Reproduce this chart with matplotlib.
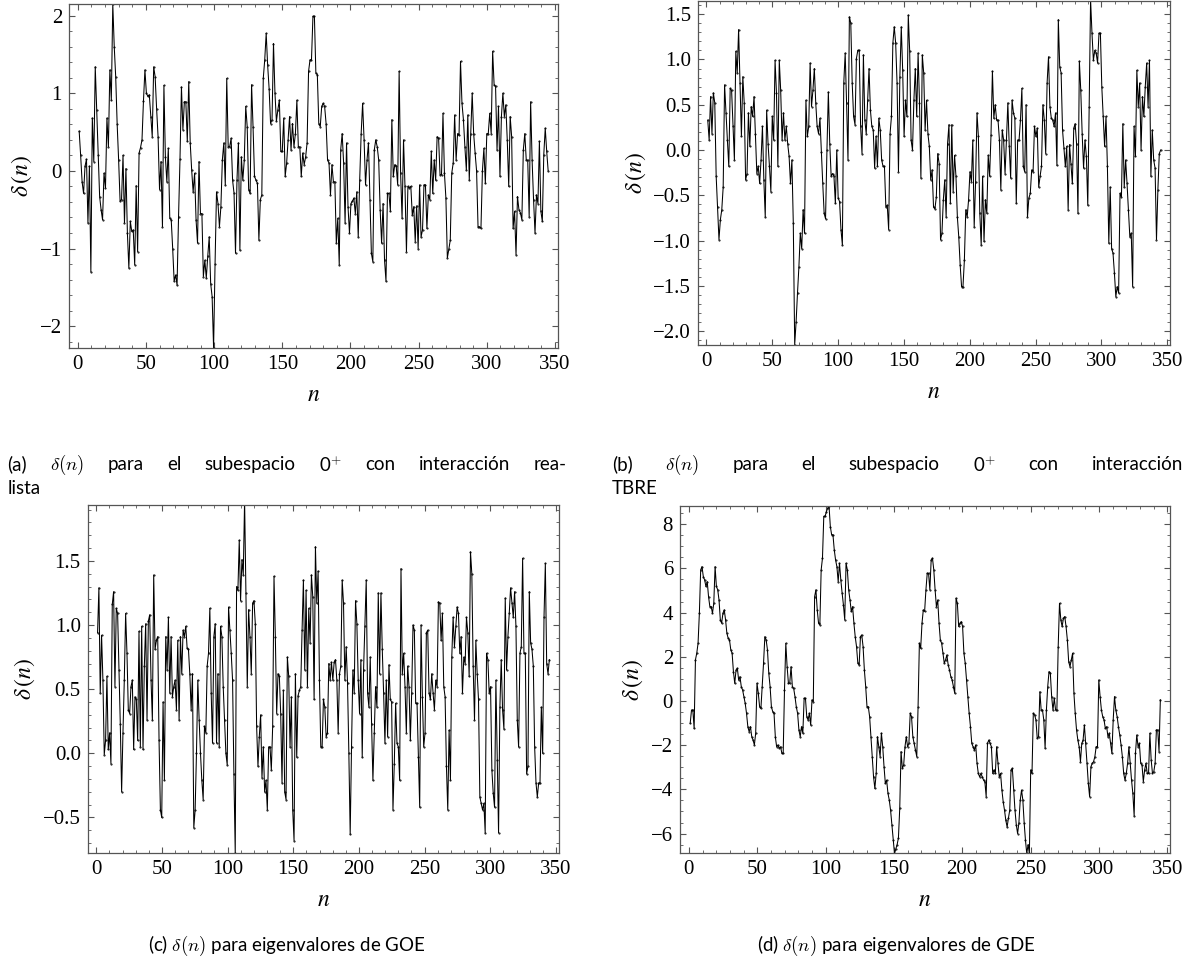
import numpy as np
import matplotlib
matplotlib.use("Agg")
import matplotlib.pyplot as plt
from matplotlib.ticker import MultipleLocator

# delta(n) values, n = 1 .. 345
delta_a = [
    0.51, 0.2, -0.14, -0.29, 0.06, 0.15, -0.67, 0.06, -1.30, 0.68, 0.12, 1.34, 0.79, 0.2, -0.33, -0.5,
    -0.63, -0.03, -0.22, 0.68, 0.31, 1.30, 0.91, 2.15, 1.60, 1.21, 0.6, 0.14, -0.39, -0.37, 0.20, -0.67,
    0.03, -0.80, -1.25, -0.65, -0.78, -0.76, -1.21, -0.19, -1.04, 0.23, 0.30, 0.40, 0.9, 1.30, 1.00, 0.96,
    0.98, 0.7, 0.44, 1.34, 1.21, 0.8, 0.44, -0.24, 0.12, -0.72, 1.10, 0.18, -0.14, 0.29, -0.61, -0.63,
    -1.0, -1.42, -1.34, -1.47, -0.6, 0.15, 1.08, 0.53, 0.89, 0.89, 0.38, 1.15, 0.36, 0.01, -0.27, -0.03,
    -0.63, -0.93, 0.12, -0.55, -0.55, -1.36, -1.15, -1.38, -1.10, -0.85, -1.45, -1.62, -2.28, -1.2, -0.27,
    -0.42, -0.72, -0.46, 0.14, 0.36, -0.18, 1.19, 0.31, 0.31, 0.42, -0.12, -0.29, -1.06, -0.12, 0.36,
    -1.02, 0.18, -0.12, 0.14, 0.83, 0.57, -0.24, -0.29, 1.11, 0.57, -0.07, -0.12, -0.16, -0.89, -0.37,
    -0.31, 1.19, 1.43, 1.77, 1.36, 1.06, 0.61, 0.66, 1.64, 1.00, 0.64, 0.79, 0.91, 0.25, 0.25, 0.68,
    -0.07, 0.10, 0.40, 0.70, 0.27, 0.61, 0.31, 0.48, 0.91, 0.31, 0.31, -0.07, 0.23, 0.08, 0.18, 0.36,
    1.28, 1.43, 1.43, 1.99, 1.99, 1.26, 1.24, 0.61, 0.57, 0.83, 0.87, 0.83, 0.61, 0.14, 0.10, -0.31,
    0.08, -0.14, -0.14, -0.93, -0.61, -1.21, 0.27, 0.48, 0.10, -0.67, 0.36, -0.46, -0.80, -0.42, -0.39,
    -0.35, -0.55, -0.27, -0.85, -0.12, 0.48, 0.87, 0.40, -0.18, 0.14, 0.36, -0.37, -1.06, -1.17, 0.27,
    0.40, 0.31, 0.14, -0.50, -0.93, -0.42, -1.15, -1.42,
    -0.29, -0.29, -0.52, 0.66, -0.07, 0.08, 0.06, -0.18, 1.28, -0.03, -0.61, 0.40, -0.20, -1.04, -0.20,
    -0.22, -0.20, -0.57, -0.46, -0.91, -0.45, -1.00, -0.18, -0.85, -0.76, -0.18, -0.18, -0.74, -0.31,
    -0.37, 0.25, -0.29, 0.14, -0.12, 0.44, 0.42, -0.05, -0.05, 0.74, -0.03, -0.35, -1.12, -1.01, -0.89,
    -0.03, 0.10, 0.72, 0.14, 0.48, 0.46, 1.41, 0.87, 0.66, 0.31, 0.01, 0.72, -0.12, 0.48, 1.00, 0.48,
    0.23, 0.00, -0.72, -0.72, -0.74, 0.00, 0.29, -0.16, 0.48, 0.48, 0.74, 0.48, 1.54, 1.11, 1.09, 0.27,
    0.83, -0.07, 0.70, 1.00, 0.70, 0.85, 0.40, -0.20, 0.70, 0.44, -0.74, -0.52, -1.08, -0.33, -0.50,
    -0.54, -0.63, 0.27, 0.48, 0.14, 0.14, -0.59, 0.89, 0.14, -0.37, -0.80, -0.31, -0.42, 0.38, -0.52,
    -0.65, 0.21, 0.55, 0.25, 0.00,
]

delta_b = [
    0.33, 0.11, 0.59, 0.18, 0.63, 0.52, -0.29, -0.63, -0.99, -0.77, -0.66, -0.41, 0.72, 0.41, 0.11, -0.18,
    0.68, 0.66, 0.26, -0.11, 1.09, 0.85, 1.33, 0.74, 0.15, 0.81, 0.52, -0.33, -0.26, 0.41, 0.04, 0.48,
    0.37, 0.59, 0.18, -0.26, -0.18, -0.37, -0.11, 0.26, -0.33, -0.74, 0.44, 0.07, -0.18, -0.46, 0.37,
    0.11, 0.99, 0.63, -0.18, 0.99, 0.66, 0.11, 0.41, 0.11, 0.26,
    0.07, -0.07, -0.37, -0.11, -0.81, -2.15, -1.90, -1.58, -1.29, -0.92, -1.09, -0.66, -0.92, 0.55, 0.15,
    0.26, 0.96, 0.48, 0.66, 0.90, 0.52, 0.26, 0.18, 0.35, -0.02, -0.37, -0.70, -0.76, 0.00, 0.64, 0.07,
    -0.29, -0.26, -0.29, -0.59, 0.00, -0.53, -0.57, -0.88, -1.05, 0.74, 1.07, 0.52, -0.11, 1.47, 1.40,
    0.74, 0.37, 0.28, 1.01, 1.10, 1.10, 0.26, -0.04, 1.05, 0.33, 0.18, 0.55, 0.90, 0.44, 0.26, 0.22,
    -0.20, 0.15, -0.18, 0.35, 0.22, -0.11, -0.18, -0.18, -0.63, -0.61, -0.88, 0.18, 0.37, 1.18, 1.36,
    1.18, 0.74, -0.24, 0.81, 1.36, 0.88, 0.15, 0.55, 0.37, 1.49, 1.09, 0.11, 0.00, 0.55, 0.90, 0.37,
    1.07, 0.52, -0.31, 1.05, 0.85, 0.22, 0.55, 0.18, 0.04, -0.33, -0.22, -0.63, -0.65, -0.52, -0.04,
    -0.15, -0.99, -0.92, -0.55, -0.33, -0.74, 0.07, 0.28, -0.59, 0.28, -0.46, -0.06, -0.29, -0.74, -0.96,
    -1.27, -1.51, -1.51, -1.22, -0.66, -0.74, -0.55, -0.24, -0.35, 0.11, -0.85, -0.35, 0.41, 0.15, -0.70,
    -1.05, -0.29, -1.01, -0.55, -0.70, -0.06, -0.29, 0.17, 0.87, 0.35, 0.50, 0.33, 0.33, 0.11, -0.44,
    0.22, 0.11, -0.26, 0.11, 0.52, 0.04, -0.31, 0.55, 0.41, 0.35, -0.59, 0.11, 0.11, 0.33, 0.68, -0.18,
    -0.24, 0.50, -0.74, -0.53, -0.48, -0.22, -0.24, 0.26, 0.15, 0.24, -0.41, -0.29, -0.18, 0.50, 0.33,
    -0.04, 0.74, 1.03, 0.48, 0.35, 0.33, 0.26, 0.41, -0.17, 1.44, 0.92, 0.85, 0.22, 0.02, -0.18, 0.04,
    -0.66, 0.06, -0.15, -0.37, 0.24, 0.29, 0.07, -0.70, 0.98, 0.66, 0.18, -0.20, 0.11, -0.07, -0.61,
    0.48, 1.66, 1.29, 0.99, 1.10, 1.07, 0.96, 1.29, 1.29, 0.70, 0.37, 0.04, 0.37, -0.18, -1.03, -0.41,
    -1.09, -1.14, -1.36, -1.62, -1.51, -1.58, -0.48, -0.52, 0.29, -0.41, -0.11, -0.37, -0.66, -0.96,
    -0.92, -1.51, 0.26, -0.07, 0.88, 0.48, 0.74, 0.00, 0.59, 0.37, 0.70, 0.96, 0.48, 0.99, -0.29, 0.22,
    -0.11, -0.20, -0.99, -0.44, -0.04, 0.00,
]

delta_c = [
    0.94, 1.29, 0.47, 0.92, 0.57, -0.01, 0.10, 0.60, 0.03, 0.16, -0.08, 1.16, 1.26, 0.52, 1.13, 1.09,
    0.65, 0.23, -0.30, 0.16, 0.57, 1.09, 0.78, 0.34, 0.31, 0.52, 0.57, 0.03, 0.44, 0.42, 0.10, 0.95,
    0.05, 0.99, 0.03, 0.68, 1.01, 0.26, 1.03, 1.08, 0.57, 0.26, 1.39, 0.81, 0.88, 0.91, 0.10, -0.44,
    -0.50, 0.40, -0.21, 0.91, 0.65, 1.06, 0.47, 0.91, 0.44, 0.52, 0.57, 0.34, 0.88, 0.26, 0.91, 0.62,
    0.96, 0.91, 0.99, 0.82, 0.81, 0.62, 0.34, 0.62, -0.58, -0.44, 0.00, 0.57, 0.26, 0.00, -0.21, -0.36,
    0.21, 0.16, 0.68, 0.78, 1.13, 0.47, 0.08, 0.91, 1.01, 0.08,
    0.62, 0.05, 0.99, 0.91, 0.52, 0.26, 0.00, -0.09, 1.14, 0.96, 0.78, 0.57, -0.16, -0.78, 1.30, 1.27,
    1.66, 1.19, 1.51, 1.39, 1.97, 1.25, 0.52, 1.12, 0.91, 0.62, 1.17, 1.19, 1.01, 0.21, -0.10, 0.13,
    0.30, -0.19, 0.05, -0.30, -0.21, -0.44, 0.05, 0.05, -0.13, 0.21, 1.38, 0.91, 0.31, 0.62, 0.60, 0.31,
    -0.23, 0.49, -0.30, -0.36, 0.75, 0.60, 0.05, 0.44, -0.44, -0.68, 0.62, -0.03, 0.45, 0.49, 0.52, 0.96,
    1.35, 0.65, 1.27, 0.52, 1.13, 0.86, 1.39, 1.22, 0.42, 1.61, 1.17, 1.42, 0.57, 0.05, 0.05, 0.42, 0.36,
    0.13, 0.16, 0.70, 0.57, 0.71, 0.57, 0.71, 0.73, 0.57, 0.16, 0.62, 0.68, 1.35, 1.17, 0.57, 0.83, 0.55,
    0.00, -0.63, 0.05, 0.65, 0.47, 1.19, 1.01, 0.57, 0.31, 0.73, -0.03, 0.65, 0.99, 1.35, 0.47, 0.36,
    0.75, 0.23, -0.21, 0.16, 0.52, 0.36, 1.25,
    0.62, 1.25, 0.81, 0.47, 0.08, 0.57, 0.13, 0.69, 0.42, 0.40, -0.44, -0.08, 0.39, 0.08, 0.05, -0.21,
    1.44, 0.62, 0.78, 0.52, 0.16, 0.68, 0.52, 0.10, 0.47, 1.00, 0.96, 0.39, 0.39, -0.03, -0.42, 1.00,
    0.44, 0.05, 0.16, 0.94, 0.96, 0.47, 0.42, 0.62, 0.47, 0.34, 0.57, 0.52, 1.18, 1.17, 0.88, 1.09, 0.52,
    0.44, -0.10, -0.44, 0.18, -0.21, 0.75, 1.06, 0.83, 0.99, 1.14, 1.09, 0.78, 0.91, 0.47, 0.75, 0.70,
    1.06, 0.94, 0.60, 1.57, 1.40, 0.68, 0.26, 0.88, 0.62, 0.42, -0.34, -0.39, -0.44, -0.39, -0.62, 0.78,
    0.73, 0.47, 0.52, -0.13, -0.31, -0.42, 0.57, -0.05, -0.62, 0.36, 0.73, 0.34, 0.19, 1.21, 0.65, 0.91,
    1.09, 1.29, 1.17, 1.06, 1.26, 0.99, 0.26, 0.05, 0.78, 0.83, 1.52, 0.78, 0.78, -0.16, -0.10, 1.26,
    0.86, 0.81, 0.68, 0.05, -0.23, -0.34, -0.23, -0.23, 0.36, 0.00, 1.06, 1.48, 0.70, 0.62, 0.73,
]

delta_d = [
    -1.01, -0.41, -0.41, -1.24, 1.86, 2.16, 2.61, 3.97, 5.93, 6.08, 5.63, 5.48, 5.18, 5.40, 4.72, 4.27,
    4.27, 3.97, 4.42, 6.08, 5.18, 5.03, 4.57, 3.67, 3.52, 3.97, 4.12, 3.67, 3.06, 2.84, 2.76, 2.31, 2.16,
    1.33, 0.80, 1.40, 1.48, 0.95, 1.10, 0.65, 0.50, 0.20, -0.11, -0.56, -1.16, -1.39, -1.16, -1.62,
    -1.77, -1.99, -1.46, 0.80, 0.35, -0.26, -0.33, 0.65, 1.71, 2.91, 2.76, 2.31, 1.25, 0.65, -0.26,
    -0.48, -0.56, -1.62, -2.07, -1.99, -2.14, -2.07, -2.37, -2.37, 0.50, 2.61, 1.55, 0.80, 0.80, 1.55,
    0.65, 0.57, 0.20, -0.26, -0.56, -1.31, -1.62, -1.16, -1.46,
    0.12, 0.12, -0.71, -0.86, -0.56, -1.09, 0.05, -0.03, 4.72, 5.03, 4.12, 3.52, 3.44, 5.93, 6.46, 8.35,
    8.35, 8.57, 8.72, 8.83, 7.89, 7.52, 7.52, 6.84, 6.38, 6.08, 5.40, 6.23, 5.48, 4.88, 4.35, 3.67, 6.23,
    5.93, 5.03, 4.57, 4.05, 4.27, 3.52, 2.91, 2.46, 1.71, 1.63, 2.91, 2.99, 2.46, 1.40, 0.65, -0.26,
    -0.26, -0.71, -1.62, -2.52, -3.43, -3.96, -3.28, -1.62, -2.07, -2.52, -1.46, -2.07, -2.97, -3.73,
    -3.58, -4.18, -4.48, -4.94, -5.60, -6.30, -6.90, -6.70, -6.50, -6.20, -4.86, -2.29, -3.05, -2.90,
    -2.07, -1.62, -2.07, -1.92, -0.56, -0.71, -1.62, -1.92, -2.22, -2.52, -0.26, 2.61, 2.38, 3.52, 4.12,
    4.05, 5.03, 5.78, 5.78, 5.03, 6.38, 6.46, 5.93, 5.03, 4.27, 4.57, 3.52, 2.76, 2.61, 2.16, 1.71, 1.86,
    2.08, 1.63, 1.40, 1.10, 0.95, 0.65, 0.35, 4.65, 4.42, 3.37, 3.52, 3.59, 3.37, 2.16, 1.71, 0.95, 0.20,
    -0.56, -1.16, -1.92, -2.07, -2.22, -1.99, -2.82, -3.28, -3.43, -3.28, -3.43, -3.58, -3.65, -4.33,
    -1.92, -1.77,
    -1.92, -2.07, -3.28, -3.12, -3.28, -2.07, -2.82, -3.43, -3.28, -4.03, -4.56, -4.94, -5.40, -5.70,
    -5.30, -4.94, -3.12, -3.05, -4.03, -4.94, -5.60, -6.00, -5.50, -4.50, -4.03, -4.48, -5.50, -6.30,
    -6.90, -6.50, -6.90, -3.12, -3.28, -0.56, -0.63, -0.86, -1.69, -1.62, 0.42, -0.41, -0.41, -0.86,
    -2.14, -0.41, 0.65, 1.33, 1.25, 0.20, -0.41, 0.12, -0.41, -0.41, 2.46, 4.42, 3.67, 3.37, 3.74, 3.82,
    3.37, 2.76, 1.78, 1.55, 1.86, 2.16, 0.35, -0.56, -1.31, -1.77, -2.07, -2.75, -1.92, -1.77, -1.09,
    -1.92, -2.82, -3.73, -4.33, -2.97, -2.82, -2.75, -2.52, -2.07, -2.07, 0.95, 0.20, -0.41, -0.71,
    -0.86, -1.24, -1.16, -1.62, -1.46, -1.92, -2.37, -0.86, 0.20, -0.41, -0.71, -1.16, -1.54, -1.99,
    -2.52, -3.28, -3.58, -3.28, -2.82, -2.07, -2.82, -3.58, -4.18, -5.20, -2.37, -1.54, -2.07, -1.92,
    -2.82, -2.90, -3.65, -3.12, -2.82, -3.28, -3.28, -1.46, -2.67, -3.28, -3.20, -2.82, -1.31, -1.31,
    -2.29, 0.05,
]

captions = [
    ["(a)", r"$\delta(n)$", "para", "el", "subespacio", r"0$^{+}$", "con", "interacción", "rea-"],
    ["(b)", r"$\delta(n)$", "para", "el", "subespacio", r"0$^{+}$", "con", "interacción"],
    r"(c) $\delta(n)$ para eigenvalores de GOE",
    r"(d) $\delta(n)$ para eigenvalores de GDE",
]
second_lines = ["lista", "TBRE"]

N_MAX = 345
SERIF = "Liberation Serif"
FRAME = "#555555"

fig = plt.figure(figsize=(11.95, 9.72), dpi=100)

panels = [
    (delta_a, [0.0577, 0.642, 0.409, 0.354], (-2.28, 2.15), 1.0, 0.2),
    (delta_b, [0.584, 0.645, 0.395, 0.354], (-2.155, 1.646), 0.5, 0.1),
    (delta_c, [0.0734, 0.1224, 0.394, 0.358], (-0.777, 1.935), 0.5, 0.1),
    (delta_d, [0.569, 0.1224, 0.410, 0.357], (-6.88, 8.82), 2.0, 0.5),
]

for vals, rect, ylim, major, minor in panels:
    ax = fig.add_axes(rect)
    # samples were read at near-uniform spacing along n
    n = np.linspace(1, N_MAX, len(vals))
    ax.plot(n, vals, color="black", lw=0.75, marker="o", ms=0.5)
    ax.set_xlim(-6.5, 352)
    ax.set_ylim(*ylim)
    ax.xaxis.set_major_locator(MultipleLocator(50))
    ax.xaxis.set_minor_locator(MultipleLocator(10))
    ax.yaxis.set_major_locator(MultipleLocator(major))
    ax.yaxis.set_minor_locator(MultipleLocator(minor))
    ax.tick_params(which="both", direction="in", top=True, right=True, color=FRAME,
                   labelsize=15, pad=5)
    ax.tick_params(which="major", length=4.5, width=0.8)
    ax.tick_params(which="minor", length=2.5, width=0.6)
    for lab in ax.get_xticklabels() + ax.get_yticklabels():
        lab.set_family(SERIF)
    for sp in ax.spines.values():
        sp.set_color(FRAME)
        sp.set_linewidth(0.9)
    ax.set_xlabel(r"$n$", fontsize=17, math_fontfamily="stix", labelpad=6)
    ax.set_ylabel(r"$\delta\,(n)$", fontsize=17, math_fontfamily="stix", labelpad=4)

cap_kw = dict(fontsize=13.5, family="Lato", math_fontfamily="cm", va="center")
renderer = fig.canvas.get_renderer()


def justified(words, x0, x1, y):
    texts = [fig.text(0, y, w, **cap_kw) for w in words]
    widths = [t.get_window_extent(renderer).width / fig.bbox.width for t in texts]
    gap = (x1 - x0 - sum(widths)) / (len(words) - 1)
    x = x0
    for t, w in zip(texts, widths):
        t.set_x(x)
        x += w + gap


justified(captions[0], 0.006, 0.474, 0.522)
fig.text(0.006, 0.497, second_lines[0], **cap_kw)
justified(captions[1], 0.512, 0.99, 0.522)
fig.text(0.512, 0.497, second_lines[1], **cap_kw)
fig.text(0.24, 0.027, captions[2], ha="center", **cap_kw)
fig.text(0.75, 0.027, captions[3], ha="center", **cap_kw)

fig.savefig("out.png", dpi=100)
